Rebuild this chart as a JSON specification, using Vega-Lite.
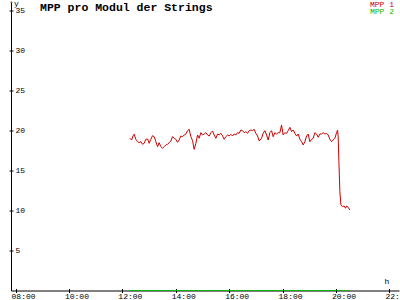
{
  "$schema": "https://vega.github.io/schema/vega-lite/v6.json",
  "width": 388,
  "height": 288,
  "autosize": {"type": "none"},
  "padding": {"left": 11, "top": 2.5, "right": 1, "bottom": 9.5},
  "background": "white",
  "title": {"text": "MPP pro Modul der Strings", "anchor": "start", "frame": "group", "dx": 29, "offset": -23, "font": "Liberation Mono", "fontSize": 11.5, "fontWeight": "bold", "color": "black", "baseline": "alphabetic"},
  "config": {
    "view": {"stroke": null},
    "axis": {"domainColor": "black", "tickColor": "black", "labelColor": "black", "titleColor": "black", "grid": false, "labelFont": "Liberation Mono", "labelFontSize": 8, "titleFont": "Liberation Mono", "titleFontSize": 8, "titleFontWeight": "normal", "domainWidth": 1, "tickWidth": 1}
  },
  "data": {"values": [
    {"t": 12.281, "MPP 1": 19.03, "MPP 2": 0},
    {"t": 12.345, "MPP 1": 18.81, "MPP 2": 0},
    {"t": 12.404, "MPP 1": 19.35, "MPP 2": 0},
    {"t": 12.442, "MPP 1": 19.53, "MPP 2": 0},
    {"t": 12.506, "MPP 1": 18.9, "MPP 2": 0},
    {"t": 12.569, "MPP 1": 18.6, "MPP 2": 0},
    {"t": 12.629, "MPP 1": 18.48, "MPP 2": 0},
    {"t": 12.693, "MPP 1": 18.6, "MPP 2": 0},
    {"t": 12.757, "MPP 1": 18.28, "MPP 2": 0},
    {"t": 12.816, "MPP 1": 18.4, "MPP 2": 0},
    {"t": 12.88, "MPP 1": 18.9, "MPP 2": 0},
    {"t": 12.944, "MPP 1": 18.94, "MPP 2": 0},
    {"t": 13.004, "MPP 1": 18.4, "MPP 2": 0},
    {"t": 13.067, "MPP 1": 18.9, "MPP 2": 0},
    {"t": 13.131, "MPP 1": 19.35, "MPP 2": 0},
    {"t": 13.191, "MPP 1": 19.23, "MPP 2": 0},
    {"t": 13.255, "MPP 1": 18.6, "MPP 2": 0},
    {"t": 13.318, "MPP 1": 17.98, "MPP 2": 0},
    {"t": 13.378, "MPP 1": 18.48, "MPP 2": 0},
    {"t": 13.442, "MPP 1": 17.98, "MPP 2": 0},
    {"t": 13.506, "MPP 1": 17.78, "MPP 2": 0},
    {"t": 13.566, "MPP 1": 17.98, "MPP 2": 0},
    {"t": 13.629, "MPP 1": 18.19, "MPP 2": 0},
    {"t": 13.693, "MPP 1": 18.28, "MPP 2": 0},
    {"t": 13.753, "MPP 1": 18.48, "MPP 2": 0},
    {"t": 13.816, "MPP 1": 18.69, "MPP 2": 0},
    {"t": 13.88, "MPP 1": 19.23, "MPP 2": 0},
    {"t": 13.94, "MPP 1": 19.03, "MPP 2": 0},
    {"t": 14.004, "MPP 1": 18.9, "MPP 2": 0},
    {"t": 14.067, "MPP 1": 18.53, "MPP 2": 0},
    {"t": 14.127, "MPP 1": 18.81, "MPP 2": 0},
    {"t": 14.191, "MPP 1": 19.31, "MPP 2": 0},
    {"t": 14.255, "MPP 1": 19.23, "MPP 2": 0},
    {"t": 14.315, "MPP 1": 19.44, "MPP 2": 0},
    {"t": 14.378, "MPP 1": 19.56, "MPP 2": 0},
    {"t": 14.442, "MPP 1": 19.98, "MPP 2": 0},
    {"t": 14.502, "MPP 1": 20.15, "MPP 2": 0},
    {"t": 14.566, "MPP 1": 19.23, "MPP 2": 0},
    {"t": 14.629, "MPP 1": 18.73, "MPP 2": 0},
    {"t": 14.689, "MPP 1": 17.65, "MPP 2": 0},
    {"t": 14.753, "MPP 1": 18.4, "MPP 2": 0},
    {"t": 14.816, "MPP 1": 19.44, "MPP 2": 0},
    {"t": 14.876, "MPP 1": 19.03, "MPP 2": 0},
    {"t": 14.94, "MPP 1": 19.73, "MPP 2": 0},
    {"t": 15.004, "MPP 1": 19.44, "MPP 2": 0},
    {"t": 15.064, "MPP 1": 19.56, "MPP 2": 0},
    {"t": 15.127, "MPP 1": 19.73, "MPP 2": 0},
    {"t": 15.191, "MPP 1": 19.44, "MPP 2": 0},
    {"t": 15.251, "MPP 1": 19.31, "MPP 2": 0},
    {"t": 15.315, "MPP 1": 19.73, "MPP 2": 0},
    {"t": 15.378, "MPP 1": 19.94, "MPP 2": 0},
    {"t": 15.438, "MPP 1": 19.44, "MPP 2": 0},
    {"t": 15.502, "MPP 1": 19.03, "MPP 2": 0},
    {"t": 15.566, "MPP 1": 19.56, "MPP 2": 0},
    {"t": 15.625, "MPP 1": 19.44, "MPP 2": 0},
    {"t": 15.689, "MPP 1": 19.65, "MPP 2": 0},
    {"t": 15.753, "MPP 1": 19.31, "MPP 2": 0},
    {"t": 15.813, "MPP 1": 18.9, "MPP 2": 0},
    {"t": 15.876, "MPP 1": 19.23, "MPP 2": 0},
    {"t": 15.94, "MPP 1": 19.44, "MPP 2": 0},
    {"t": 16.0, "MPP 1": 19.31, "MPP 2": 0},
    {"t": 16.064, "MPP 1": 19.53, "MPP 2": 0},
    {"t": 16.127, "MPP 1": 19.31, "MPP 2": 0},
    {"t": 16.187, "MPP 1": 19.56, "MPP 2": 0},
    {"t": 16.251, "MPP 1": 19.44, "MPP 2": 0},
    {"t": 16.315, "MPP 1": 19.73, "MPP 2": 0},
    {"t": 16.375, "MPP 1": 19.65, "MPP 2": 0},
    {"t": 16.438, "MPP 1": 20.06, "MPP 2": 0},
    {"t": 16.502, "MPP 1": 19.98, "MPP 2": 0},
    {"t": 16.562, "MPP 1": 19.73, "MPP 2": 0},
    {"t": 16.625, "MPP 1": 19.85, "MPP 2": 0},
    {"t": 16.689, "MPP 1": 19.65, "MPP 2": 0},
    {"t": 16.749, "MPP 1": 19.98, "MPP 2": 0},
    {"t": 16.813, "MPP 1": 20.06, "MPP 2": 0},
    {"t": 16.876, "MPP 1": 19.98, "MPP 2": 0},
    {"t": 16.936, "MPP 1": 20.15, "MPP 2": 0},
    {"t": 17.0, "MPP 1": 19.65, "MPP 2": 0},
    {"t": 17.064, "MPP 1": 19.31, "MPP 2": 0},
    {"t": 17.124, "MPP 1": 18.69, "MPP 2": 0},
    {"t": 17.213, "MPP 1": 19.03, "MPP 2": 0},
    {"t": 17.273, "MPP 1": 19.65, "MPP 2": 0},
    {"t": 17.337, "MPP 1": 19.98, "MPP 2": 0},
    {"t": 17.401, "MPP 1": 19.44, "MPP 2": 0},
    {"t": 17.461, "MPP 1": 18.81, "MPP 2": 0},
    {"t": 17.524, "MPP 1": 19.73, "MPP 2": 0},
    {"t": 17.588, "MPP 1": 19.98, "MPP 2": 0},
    {"t": 17.648, "MPP 1": 19.23, "MPP 2": 0},
    {"t": 17.712, "MPP 1": 19.73, "MPP 2": 0},
    {"t": 17.775, "MPP 1": 19.56, "MPP 2": 0},
    {"t": 17.835, "MPP 1": 19.73, "MPP 2": 0},
    {"t": 17.899, "MPP 1": 19.73, "MPP 2": 0},
    {"t": 17.963, "MPP 1": 20.69, "MPP 2": 0},
    {"t": 18.022, "MPP 1": 19.44, "MPP 2": 0},
    {"t": 18.086, "MPP 1": 19.73, "MPP 2": 0},
    {"t": 18.15, "MPP 1": 19.65, "MPP 2": 0},
    {"t": 18.21, "MPP 1": 19.98, "MPP 2": 0},
    {"t": 18.273, "MPP 1": 20.4, "MPP 2": 0},
    {"t": 18.337, "MPP 1": 19.85, "MPP 2": 0},
    {"t": 18.397, "MPP 1": 20.06, "MPP 2": 0},
    {"t": 18.461, "MPP 1": 19.65, "MPP 2": 0},
    {"t": 18.524, "MPP 1": 19.31, "MPP 2": 0},
    {"t": 18.584, "MPP 1": 19.56, "MPP 2": 0},
    {"t": 18.648, "MPP 1": 18.9, "MPP 2": 0},
    {"t": 18.712, "MPP 1": 18.6, "MPP 2": 0},
    {"t": 18.772, "MPP 1": 18.19, "MPP 2": 0},
    {"t": 18.835, "MPP 1": 18.6, "MPP 2": 0},
    {"t": 18.899, "MPP 1": 19.31, "MPP 2": 0},
    {"t": 18.959, "MPP 1": 19.56, "MPP 2": 0},
    {"t": 19.022, "MPP 1": 18.6, "MPP 2": 0},
    {"t": 19.086, "MPP 1": 18.9, "MPP 2": 0},
    {"t": 19.146, "MPP 1": 19.03, "MPP 2": 0},
    {"t": 19.21, "MPP 1": 19.73, "MPP 2": 0},
    {"t": 19.273, "MPP 1": 19.56, "MPP 2": 0},
    {"t": 19.333, "MPP 1": 19.15, "MPP 2": 0},
    {"t": 19.397, "MPP 1": 19.56, "MPP 2": 0},
    {"t": 19.461, "MPP 1": 19.56, "MPP 2": 0},
    {"t": 19.521, "MPP 1": 19.73, "MPP 2": 0},
    {"t": 19.584, "MPP 1": 19.56, "MPP 2": 0},
    {"t": 19.648, "MPP 1": 19.65, "MPP 2": 0},
    {"t": 19.708, "MPP 1": 19.44, "MPP 2": 0},
    {"t": 19.772, "MPP 1": 18.9, "MPP 2": 0},
    {"t": 19.835, "MPP 1": 18.6, "MPP 2": 0},
    {"t": 19.895, "MPP 1": 18.81, "MPP 2": 0},
    {"t": 19.959, "MPP 1": 19.03, "MPP 2": 0},
    {"t": 20.022, "MPP 1": 19.73, "MPP 2": 0},
    {"t": 20.06, "MPP 1": 20.06, "MPP 2": 0},
    {"t": 20.082, "MPP 1": 19.23, "MPP 2": 0},
    {"t": 20.109, "MPP 1": 16.1, "MPP 2": 0},
    {"t": 20.146, "MPP 1": 12.35, "MPP 2": 0},
    {"t": 20.184, "MPP 1": 10.69, "MPP 2": 0},
    {"t": 20.247, "MPP 1": 10.48, "MPP 2": 0},
    {"t": 20.307, "MPP 1": 10.56, "MPP 2": 0},
    {"t": 20.36, "MPP 1": 10.28, "MPP 2": 0},
    {"t": 20.397, "MPP 1": 10.56, "MPP 2": 0},
    {"t": 20.457, "MPP 1": 10.4, "MPP 2": 0},
    {"t": 20.521, "MPP 1": 10.06, "MPP 2": 0}
  ]},
  "transform": [{"fold": ["MPP 1", "MPP 2"], "as": ["series", "value"]}],
  "layer": [
    {
      "transform": [{"filter": "datum.series === 'MPP 1'"}],
      "mark": {"type": "line", "strokeWidth": 1},
      "encoding": {
        "x": {"field": "t", "type": "quantitative", "scale": {"domain": [7.83, 22.36], "nice": false, "zero": false},
          "axis": {"orient": "bottom", "values": [8, 10, 12, 14, 16, 18, 20, 22], "labelExpr": "(datum.value < 10 ? '0' : '') + datum.value + ':00'", "title": "h", "titleX": 375.5, "titleY": -9.5, "titleAlign": "center", "titleBaseline": "middle", "titleAngle": 0, "tickSize": 2, "labelAlign": "left", "labelOffset": -4.5, "labelBaseline": "top", "labelPadding": 0, "labelFlush": false, "labelOverlap": false}},
        "y": {"field": "value", "type": "quantitative", "scale": {"domain": [0, 36], "nice": false},
          "axis": {"orient": "left", "values": [5, 10, 15, 20, 25, 30, 35], "tickSize": 2, "labelAlign": "left", "labelPadding": -6, "labelBaseline": "middle", "labelOverlap": false, "labelFlush": false, "title": "↑y", "titleAngle": 0, "titleX": -2.4, "titleY": 2.5, "titleAlign": "left", "titleBaseline": "alphabetic"}},
        "color": {"field": "series", "type": "nominal", "scale": {"domain": ["MPP 1"], "range": ["#cc0000"]},
          "legend": {"title": null, "orient": "none", "legendX": 351, "legendY": -2, "symbolSize": 0, "symbolStrokeWidth": 0, "symbolOpacity": 0, "labelOffset": 0, "padding": 0, "labelFont": "Liberation Mono", "labelFontSize": 8, "labelColor": "#cc0000"}}
      }
    },
    {
      "transform": [{"filter": "datum.series === 'MPP 2'"}],
      "mark": {"type": "line", "strokeWidth": 1},
      "encoding": {
        "x": {"field": "t", "type": "quantitative", "scale": {"domain": [7.83, 22.36], "nice": false, "zero": false},
          "axis": {"orient": "bottom", "values": [8, 10, 12, 14, 16, 18, 20, 22], "tickSize": 2, "offset": -2, "labels": false, "domain": false, "title": null}},
        "y": {"field": "value", "type": "quantitative", "scale": {"domain": [0, 36], "nice": false},
          "axis": {"orient": "left", "values": [5, 10, 15, 20, 25, 30, 35], "tickSize": 2, "offset": -2, "labels": false, "domain": false, "title": null}},
        "color": {"field": "series", "type": "nominal", "scale": {"domain": ["MPP 2"], "range": ["#00bb00"]},
          "legend": {"title": null, "orient": "none", "legendX": 351, "legendY": 5.5, "symbolSize": 0, "symbolStrokeWidth": 0, "symbolOpacity": 0, "labelOffset": 0, "padding": 0, "labelFont": "Liberation Mono", "labelFontSize": 8, "labelColor": "#00bb00"}}
      }
    }
  ],
  "resolve": {"scale": {"color": "independent"}, "axis": {"x": "independent", "y": "independent"}}
}
